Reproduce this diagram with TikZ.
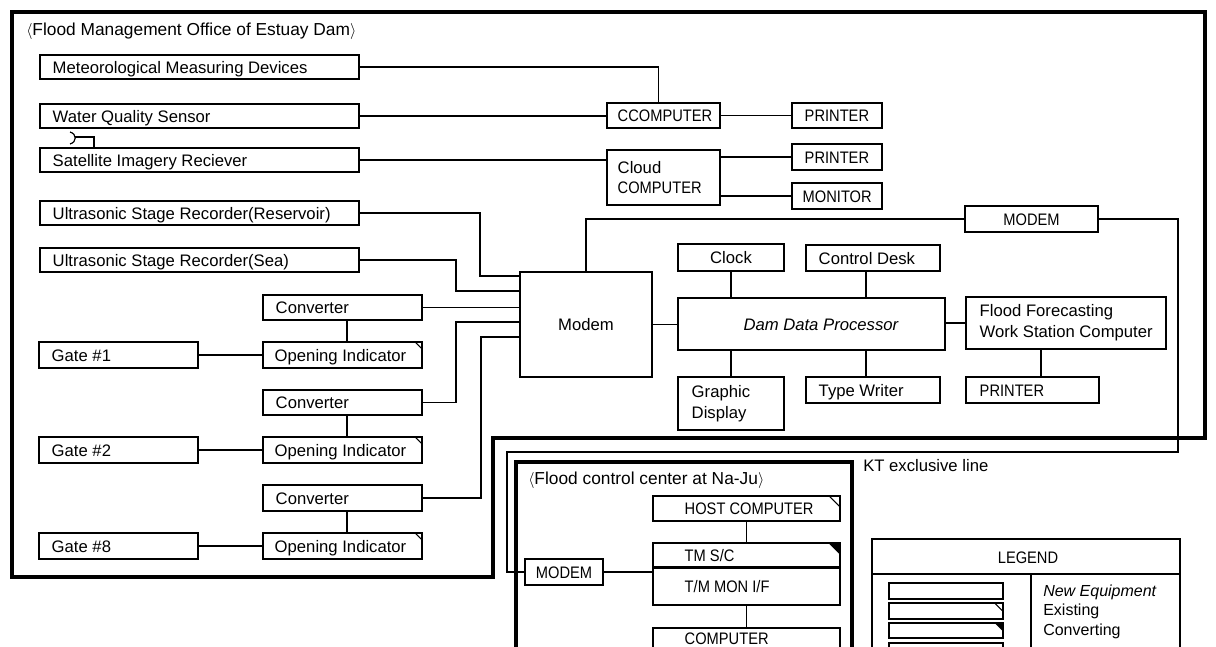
\documentclass[tikz,border=0pt]{standalone}
\usepackage{fontspec}
\setmainfont{Liberation Sans}
\newfontfamily\capsf{Liberation Sans}[FakeStretch=0.88]
\tikzset{
  box/.style={draw, line width=0.8pt, inner sep=0pt, anchor=center},
  tf/.style={font=\fontsize{12.5}{15}\selectfont, text height=9pt, text depth=0pt},
  cf/.style={font=\capsf\fontsize{12.5}{15}\selectfont, text height=9pt, text depth=0pt},
  txt/.style={tf, inner sep=0pt, anchor=west},
  ctxt/.style={cf, inner sep=0pt, anchor=west},
  mtxt/.style={inner sep=0pt, anchor=west, align=left, font=\fontsize{12.5}{15.5}\selectfont},
  wire/.style={line width=0.9pt},
  frame/.style={line width=2.3pt, line join=miter},
}
\newcommand{\mybox}[7][]{%
  \pgfmathsetmacro{\bxw}{(#5-#3)*0.75}%
  \pgfmathsetmacro{\bxh}{(#6-#4)*0.75}%
  \node[box,minimum width=\bxw pt,minimum height=\bxh pt,#1] (#2) at ({(#3+#5)/2},{(#4+#6)/2}) {#7};}
\newcommand{\boxtext}[4][txt]{\node[#1] (#2t) at ([xshift=#3pt]#2.west) {#4};}
\newcommand{\exmark}[2]{\draw[line width=0.8pt] ([xshift=-#2]#1.north east) -- ([yshift=-#2]#1.north east);}
\newcommand{\cvmark}[2]{\fill ([xshift=-#2]#1.north east) -- (#1.north east) -- ([yshift=-#2]#1.north east) -- cycle;}
\begin{document}
\begin{tikzpicture}[x=0.75pt,y=-0.75pt]
\useasboundingbox (0,0) rectangle (1216,646);
\clip (0,0) rectangle (1216,646);

% outer frame
\draw[frame] (12,12) -- (1205,12) -- (1205,438) -- (493,438) -- (493,577) -- (12,577) -- cycle;
\node[anchor=west, inner sep=0pt, font=\fontsize{13}{16}\selectfont] (title) at (26,31) {$\langle$Flood Management Office of Estuay Dam$\rangle$};

% left column
\mybox{met}{40}{55}{359}{79}{}
\mybox{wq}{40}{104}{359}{128}{}
\mybox{sat}{40}{148}{359}{172}{}
\mybox{res}{40}{201}{359}{225}{}
\mybox{sea}{40}{248}{359}{272}{}
\boxtext{met}{9.75}{Meteorological Measuring Devices}
\boxtext{wq}{9.75}{Water Quality Sensor}
\boxtext{sat}{9.75}{Satellite Imagery Reciever}
\boxtext{res}{9.75}{Ultrasonic Stage Recorder(Reservoir)}
\boxtext{sea}{9.75}{Ultrasonic Stage Recorder(Sea)}

% plug symbol
\draw[wire] (70,132) .. controls (77,134) and (77,142) .. (70,144);
\coordinate (plug) at (75,137);
\draw[wire] (plug) -| (sat.north -| 94,0);

% gates, converters, opening indicators
\mybox{gate1}{39}{342}{198}{368}{}
\mybox{gate2}{39}{437}{198}{463}{}
\mybox{gate8}{39}{533}{198}{559}{}
\boxtext{gate1}{9.75}{Gate \#1}
\boxtext{gate2}{9.75}{Gate \#2}
\boxtext{gate8}{9.75}{Gate \#8}
\mybox{conv1}{263}{295}{422}{320}{}
\mybox{conv2}{263}{390}{422}{415}{}
\mybox{conv3}{263}{485}{422}{511}{}
\boxtext{conv1}{9.75}{Converter}
\boxtext{conv2}{9.75}{Converter}
\boxtext{conv3}{9.75}{Converter}
\mybox{open1}{263}{342}{422}{368}{}
\mybox{open2}{263}{437}{422}{463}{}
\mybox{open3}{263}{533}{422}{559}{}
\boxtext{open1}{9}{Opening Indicator}
\boxtext{open2}{9}{Opening Indicator}
\boxtext{open3}{9}{Opening Indicator}
\exmark{open1}{6pt}
\exmark{open2}{6pt}
\exmark{open3}{6pt}

% computers
\mybox{cc}{607}{103}{720}{128}{}
\boxtext[ctxt]{cc}{8.25}{CCOMPUTER}
\mybox{pr1}{792}{103}{882}{128}{}
\boxtext[ctxt]{pr1}{9.75}{PRINTER}
\mybox{cloud}{607}{150}{720}{205}{}
\boxtext[mtxt]{cloud}{8.25}{Cloud\\{\capsf COMPUTER}}
\mybox{pr2}{792}{144}{882}{170}{}
\boxtext[ctxt]{pr2}{9.75}{PRINTER}
\mybox{mon}{792}{183}{882}{209}{}
\boxtext[ctxt]{mon}{8.25}{MONITOR}

% central
\mybox[cf]{modemT}{965}{206}{1098}{232}{MODEM}
\mybox[tf]{clock}{678}{244}{784}{271}{Clock}
\mybox{desk}{806}{245}{940}{271}{}
\boxtext{desk}{9.75}{Control Desk}
\mybox[tf]{modem}{520}{272}{652}{377}{Modem}
\mybox{ddp}{678}{298}{945}{350}{}
\node[txt, anchor=center, font=\fontsize{12.5}{15}\selectfont\itshape] (ddpt) at ([xshift=7pt]ddp.center) {Dam Data Processor};
\mybox{ff}{966}{297}{1166}{349}{}
\boxtext[mtxt]{ff}{10.5}{Flood Forecasting\\Work Station Computer}
\mybox{gd}{678}{377}{784}{430}{}
\boxtext[mtxt]{gd}{10.5}{Graphic\\Display}
\mybox{tw}{806}{377}{940}{403}{}
\boxtext{tw}{9.75}{Type Writer}
\mybox{pr3}{966}{377}{1099}{403}{}
\boxtext[ctxt]{pr3}{10.5}{PRINTER}

% Na-Ju center
\mybox[line width=2.3pt]{naju}{516}{462}{852}{700}{}
\node[anchor=west, inner sep=0pt, font=\fontsize{13}{15}\selectfont] (najut) at (528,480) {$\langle$Flood control center at Na-Ju$\rangle$};
\mybox[cf]{modemN}{525}{559}{603}{585}{MODEM}
\mybox{host}{653}{496}{840}{521}{}
\boxtext[ctxt]{host}{24}{HOST COMPUTER}
\exmark{host}{9pt}
\mybox{tmsc}{653}{543}{840}{567}{}
\boxtext[ctxt]{tmsc}{24}{TM S/C}
\cvmark{tmsc}{9.5pt}
\mybox{tmmon}{653}{567}{840}{605}{}
\boxtext[ctxt]{tmmon}{24}{T/M MON I/F}
\draw[line width=2pt] (tmsc.south west) -- (tmsc.south east);
\mybox{comp}{653}{628}{840}{700}{}
\node[ctxt] (compt) at ([xshift=24pt,yshift=-8pt]comp.north west) {COMPUTER};

\node[txt] (kt) at (863,465) {KT exclusive line};

% legend
\mybox{legend}{872}{539}{1180}{700}{}
\node[cf, inner sep=0pt] (legt) at (1028,557) {LEGEND};
\draw[line width=0.8pt] (legend.west |- 0,574) -- (legend.east |- 0,574);
\draw[line width=0.8pt] (1031,574) -- (legend.south -| 1031,0);
\mybox{sA}{889}{583}{1003}{599}{}
\mybox{sB}{889}{603}{1003}{619}{}
\exmark{sB}{7pt}
\mybox{sC}{889}{623}{1003}{638}{}
\cvmark{sC}{7pt}
\mybox{sD}{889}{643}{1003}{660}{}
\node[txt, font=\fontsize{12}{14}\selectfont\itshape] (la) at (1043,590) {New Equipment};
\node[txt, font=\fontsize{12}{14}\selectfont] (lb) at (1043,609) {Existing};
\node[txt, font=\fontsize{12}{14}\selectfont] (lc) at (1043,629) {Converting};

% wires
\draw[wire] (met.east) -| ([xshift=-3.75pt]cc.north);
\draw[wire] (wq.east) -- (cc.west |- wq.east);
\draw[wire] (sat.east) -- (cloud.west |- sat.east);
\draw[wire] (cc.east) -- (pr1.west);
\draw[wire] (cloud.east |- pr2.west) -- (pr2.west);
\draw[wire] (cloud.east |- mon.west) -- (mon.west);
\draw[wire] (res.east) -| (480,276) -- (modem.west |- 0,276);
\draw[wire] (sea.east) -| (456,291) -- (modem.west |- 0,291);
\draw[wire] (conv1.east) -- (modem.west |- conv1.east);
\draw[wire] (conv2.east) -| (456,322) -- (modem.west |- 0,322);
\draw[wire] (conv3.east) -| (481,337) -- (modem.west |- 0,337);
\draw[wire] (gate1.east) -- (open1.west);
\draw[wire] (gate2.east) -- (open2.west);
\draw[wire] (gate8.east) -- (open3.west);
\draw[wire] (conv1.south -| 347,0) -- (open1.north -| 347,0);
\draw[wire] (conv2.south -| 347,0) -- (open2.north -| 347,0);
\draw[wire] (conv3.south -| 347,0) -- (open3.north -| 347,0);
\draw[wire] (modem.east) -- (ddp.west |- modem.east);
\draw[wire] (clock.south) -- (ddp.north -| clock.south);
\draw[wire] (desk.south -| 866,0) -- (ddp.north -| 866,0);
\draw[wire] (ddp.south -| gd.north) -- (gd.north);
\draw[wire] (ddp.south -| 866,0) -- (tw.north -| 866,0);
\draw[wire] (ddp.east |- ff.west) -- (ff.west);
\draw[wire] (ff.south -| 1041,0) -- (pr3.north -| 1041,0);
\draw[wire] (modem.north) |- (modemT.west);
\draw[wire] (modemT.east) -| (1178,452) -| (507,572) -- (modemN.west);
\draw[wire] (modemN.east) -- (tmmon.west |- modemN.east);
\draw[wire] (host.south) -- (tmsc.north);
\draw[wire] (tmmon.south) -- (comp.north);
\end{tikzpicture}
\end{document}
